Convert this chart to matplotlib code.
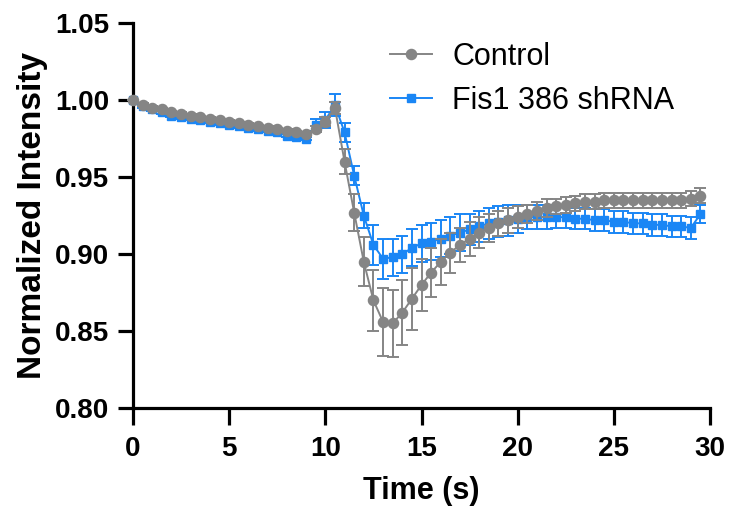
import matplotlib
matplotlib.use("Agg")
import matplotlib.pyplot as plt

# time points (s), one frame every 0.5 s
time_s = [0.0, 0.5, 1.0, 1.5, 2.0, 2.5, 3.0, 3.5, 4.0, 4.5,
          5.0, 5.5, 6.0, 6.5, 7.0, 7.5, 8.0, 8.5, 9.0, 9.5,
          10.0, 10.5, 11.0, 11.5, 12.0, 12.5, 13.0, 13.5, 14.0, 14.5,
          15.0, 15.5, 16.0, 16.5, 17.0, 17.5, 18.0, 18.5, 19.0, 19.5,
          20.0, 20.5, 21.0, 21.5, 22.0, 22.5, 23.0, 23.5, 24.0, 24.5,
          25.0, 25.5, 26.0, 26.5, 27.0, 27.5, 28.0, 28.5, 29.0, 29.5]

control = [1.000, 0.997, 0.995, 0.994, 0.992, 0.991, 0.990, 0.989, 0.988, 0.987,
           0.986, 0.985, 0.984, 0.983, 0.982, 0.981, 0.980, 0.979, 0.978, 0.981,
           0.986, 0.995, 0.960, 0.927, 0.895, 0.870, 0.856, 0.855, 0.862, 0.871,
           0.880, 0.888, 0.895, 0.901, 0.906, 0.910, 0.914, 0.917, 0.920, 0.922,
           0.924, 0.926, 0.928, 0.930, 0.931, 0.932, 0.933, 0.934, 0.934, 0.935,
           0.935, 0.935, 0.935, 0.935, 0.935, 0.935, 0.935, 0.935, 0.936, 0.938]
control_sem = [0.000, 0.001, 0.001, 0.001, 0.001, 0.001, 0.001, 0.001, 0.001, 0.001,
               0.001, 0.001, 0.001, 0.001, 0.001, 0.001, 0.001, 0.001, 0.001, 0.002,
               0.003, 0.004, 0.008, 0.012, 0.016, 0.020, 0.022, 0.022, 0.021, 0.020,
               0.017, 0.016, 0.015, 0.013, 0.011, 0.011, 0.010, 0.009, 0.008, 0.008,
               0.007, 0.006, 0.006, 0.006, 0.005, 0.005, 0.005, 0.005, 0.005, 0.005,
               0.005, 0.005, 0.005, 0.005, 0.005, 0.005, 0.005, 0.005, 0.005, 0.005]

fis1 = [1.000, 0.996, 0.994, 0.992, 0.990, 0.989, 0.988, 0.987, 0.986, 0.985,
        0.984, 0.983, 0.982, 0.981, 0.980, 0.979, 0.977, 0.976, 0.975, 0.984,
        0.987, 0.997, 0.979, 0.951, 0.925, 0.906, 0.897, 0.898, 0.900, 0.904,
        0.907, 0.908, 0.910, 0.912, 0.914, 0.916, 0.918, 0.920, 0.921, 0.922,
        0.923, 0.924, 0.924, 0.924, 0.924, 0.924, 0.923, 0.923, 0.922, 0.922,
        0.921, 0.921, 0.920, 0.920, 0.919, 0.919, 0.918, 0.918, 0.917, 0.926]
fis1_sem = [0.000, 0.001, 0.001, 0.001, 0.001, 0.001, 0.001, 0.001, 0.001, 0.001,
            0.001, 0.001, 0.001, 0.001, 0.001, 0.001, 0.001, 0.001, 0.001, 0.004,
            0.005, 0.007, 0.006, 0.006, 0.008, 0.013, 0.013, 0.012, 0.012, 0.012,
            0.012, 0.012, 0.012, 0.012, 0.012, 0.010, 0.010, 0.010, 0.010, 0.010,
            0.009, 0.008, 0.008, 0.008, 0.007, 0.007, 0.007, 0.007, 0.007, 0.007,
            0.007, 0.007, 0.007, 0.007, 0.007, 0.007, 0.007, 0.007, 0.007, 0.006]

gray = "#858585"
blue = "#1a86f5"

plt.rcParams["font.family"] = ["Liberation Sans", "DejaVu Sans"]

fig = plt.figure(figsize=(7.29, 5.14), dpi=100)
ax = fig.add_axes([0.1824, 0.206, 0.7916, 0.749])

# blue first so the grey series sits on top
ax.errorbar(time_s, fis1, yerr=fis1_sem, fmt="none", ecolor=blue,
            elinewidth=1.4, capsize=4.5, capthick=1.4, clip_on=False, zorder=2)
ax.plot(time_s, fis1, color=blue, lw=1.4, marker="s", ms=6.3,
        label="Fis1 386 shRNA", clip_on=False, zorder=3)
ax.errorbar(time_s, control, yerr=control_sem, fmt="none", ecolor=gray,
            elinewidth=1.4, capsize=4.5, capthick=1.4, clip_on=False, zorder=4)
ax.plot(time_s, control, color=gray, lw=1.4, marker="o", ms=7.3,
        label="Control", clip_on=False, zorder=5)

ax.set_xlim(0, 30)
ax.set_ylim(0.80, 1.05)
ax.set_xticks([0, 5, 10, 15, 20, 25, 30])
ax.set_yticks([0.80, 0.85, 0.90, 0.95, 1.00, 1.05])
ax.set_yticklabels(["0.80", "0.85", "0.90", "0.95", "1.00", "1.05"])

for s in ["top", "right"]:
    ax.spines[s].set_visible(False)
for s in ["left", "bottom"]:
    ax.spines[s].set_linewidth(2.3)
ax.tick_params(axis="x", width=2.3, length=12, direction="out", labelsize=20, pad=8)
ax.tick_params(axis="y", width=2.3, length=11, direction="out", labelsize=20, pad=6)
for lab in ax.get_xticklabels() + ax.get_yticklabels():
    lab.set_fontweight("bold")

ax.set_xlabel("Time (s)", fontsize=22, fontweight="bold", labelpad=10)
ax.set_ylabel("Normalized Intensity", fontsize=24, fontweight="bold", labelpad=5)

handles, labels = ax.get_legend_handles_labels()
ax.legend(handles[::-1], labels[::-1], loc="upper left",
          bbox_to_anchor=(390 / 729, 1 - 42 / 514), bbox_transform=fig.transFigure,
          borderaxespad=0, borderpad=0, frameon=False, fontsize=22,
          handlelength=1.38, handletextpad=0.66, labelspacing=0.45)

fig.savefig("out.png", dpi=100)
